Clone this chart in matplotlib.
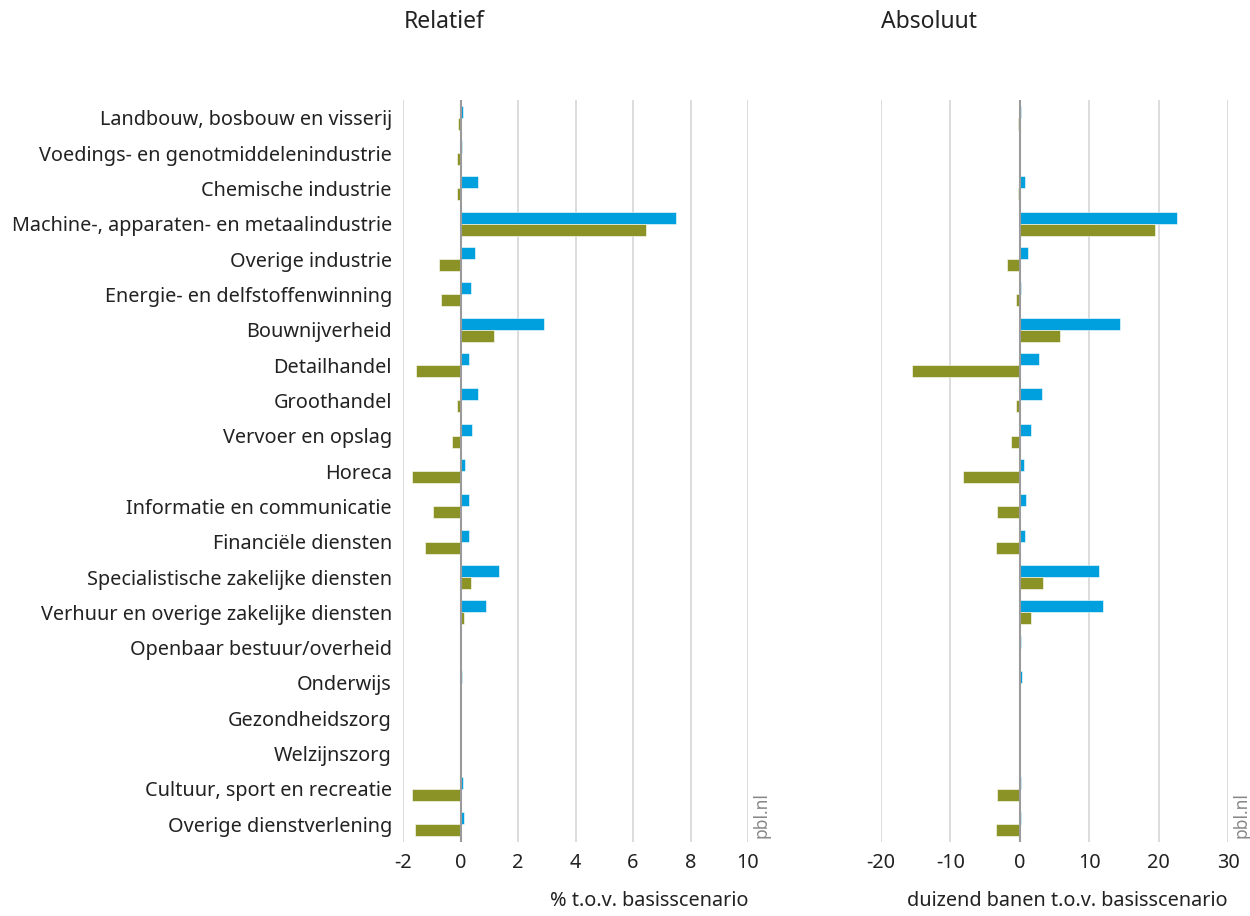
import matplotlib
matplotlib.use('Agg')
import matplotlib.pyplot as plt
import numpy as np

plt.rcParams['font.family'] = ['Noto Sans', 'DejaVu Sans']

# Data
sectoren = [
    'Landbouw, bosbouw en visserij',
    'Voedings- en genotmiddelenindustrie',
    'Chemische industrie',
    'Machine-, apparaten- en metaalindustrie',
    'Overige industrie',
    'Energie- en delfstoffenwinning',
    'Bouwnijverheid',
    'Detailhandel',
    'Groothandel',
    'Vervoer en opslag',
    'Horeca',
    'Informatie en communicatie',
    'Financiële diensten',
    'Specialistische zakelijke diensten',
    'Verhuur en overige zakelijke diensten',
    'Openbaar bestuur/overheid',
    'Onderwijs',
    'Gezondheidszorg',
    'Welzijnszorg',
    'Cultuur, sport en recreatie',
    'Overige dienstverlening',
]

# relative change (%), blue series and olive series
rel_blauw = [0.09, 0.06, 0.61, 7.5, 0.5, 0.35, 2.9, 0.28, 0.6, 0.39, 0.14,
             0.28, 0.28, 1.34, 0.9, 0.03, 0.05, 0.0, 0.0, 0.09, 0.13]
rel_groen = [-0.08, -0.12, -0.12, 6.46, -0.76, -0.69, 1.18, -1.55, -0.12, -0.29, -1.67,
             -0.97, -1.23, 0.38, 0.12, 0.0, 0.0, 0.0, 0.0, -1.69, -1.6]

# absolute change (thousand jobs)
abs_blauw = [0.2, 0.05, 0.72, 22.7, 1.16, 0.24, 14.5, 2.7, 3.19, 1.64, 0.63,
             0.92, 0.77, 11.45, 12.0, 0.2, 0.29, 0.1, 0.0, 0.2, 0.24]
abs_groen = [-0.2, -0.1, -0.2, 19.5, -1.9, -0.48, 5.85, -15.5, -0.58, -1.2, -8.16,
             -3.3, -3.5, 3.3, 1.55, 0.0, 0.0, 0.0, 0.0, -3.24, -3.5]

rel_ticks = [-2, 0, 2, 4, 6, 8, 10]
abs_ticks = [-20, -10, 0, 10, 20, 30]

blauw = '#00a0df'
groen = '#8c9326'
grid_kleur = '#d9d9d9'
tekst = '#222222'
fs = 14.3

fig = plt.figure(figsize=(12.5, 9.16), dpi=100)
ax1 = fig.add_axes([0.3224, 0.0808, 0.276, 0.81])
ax2 = fig.add_axes([0.7048, 0.0808, 0.2776, 0.81])

y = np.arange(len(sectoren))
h = 0.34


def teken(ax, blauwe, groene, ticks, xlabel):
    ax.barh(y - h / 2, blauwe, height=h, color=blauw, edgecolor='white', linewidth=0.4, zorder=3)
    ax.barh(y + h / 2, groene, height=h, color=groen, edgecolor='white', linewidth=0.4, zorder=3)
    ax.set_ylim(len(sectoren) - 0.5, -0.5)
    ax.set_xlim(ticks[0], ticks[-1])
    ax.set_xticks(ticks)
    ax.set_xticklabels([str(t) for t in ticks], fontsize=fs, color=tekst)
    for t in ticks:
        if t != 0:
            ax.axvline(t, color=grid_kleur, linewidth=1.3, zorder=1)
    ax.axvline(0, color='#9a9a9a', linewidth=1.5, zorder=4)
    for s in ax.spines.values():
        s.set_visible(False)
    ax.tick_params(axis='x', length=0, pad=8)
    ax.tick_params(axis='y', length=0, pad=8)
    ax.set_xlabel(xlabel, fontsize=fs, color=tekst, loc='right', labelpad=13)
    ax.text(1.04, 0.005, 'pbl.nl', transform=ax.transAxes, rotation=90,
            fontsize=12.5, color='#888888', ha='center', va='bottom')


teken(ax1, rel_blauw, rel_groen, rel_ticks, '% t.o.v. basisscenario')
teken(ax2, abs_blauw, abs_groen, abs_ticks, 'duizend banen t.o.v. basisscenario')

ax1.set_yticks(y)
ax1.set_yticklabels(sectoren, fontsize=fs, color=tekst)
ax2.set_yticks([])

fig.text(444 / 1250, 1 - 22 / 916, 'Relatief', fontsize=16.5, color=tekst, ha='center', va='center')
fig.text(929 / 1250, 1 - 22 / 916, 'Absoluut', fontsize=16.5, color=tekst, ha='center', va='center')

fig.savefig('out.png', dpi=100)
